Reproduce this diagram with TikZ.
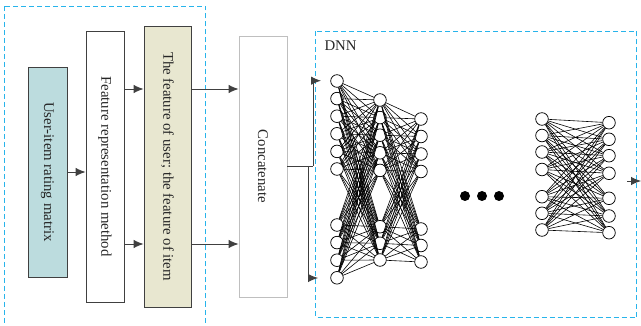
\documentclass[tikz,border=0pt]{standalone}
\usepackage{fontspec}
\setmainfont{Liberation Serif}
\usetikzlibrary{arrows.meta}

\definecolor{dashblue}{RGB}{40,180,235}
\definecolor{tealfill}{RGB}{188,220,222}
\definecolor{beigefill}{RGB}{232,231,208}

\tikzset{
    blockbox/.style={draw=black!75, line width=0.9pt, inner sep=0pt, text=black!85,
        font=\fontsize{14.8}{17}\selectfont},
    dashframe/.style={draw=dashblue, line width=1pt, dash pattern=on 5pt off 3pt},
    arr/.style={draw=black!75, line width=0.9pt, -{Latex[length=10pt,width=8.5pt]}},
    neuron/.style={circle, draw, line width=0.75pt, minimum size=12.6pt, inner sep=0pt},
    edge/.style={line width=0.6pt},
    bigdot/.style={circle, fill, minimum size=10pt, inner sep=0pt}
}

\begin{document}
\begin{tikzpicture}[x=1pt, y=-1pt]
    \useasboundingbox (0,0) rectangle (641,326);
    \clip (0,0) rectangle (641,326);

    \draw[dashframe] (4.5,6.5) rectangle (205.5,340);
    \draw[dashframe] (315.5,31.5) rectangle (636.5,317.5);

    \node[blockbox, fill=tealfill, minimum width=39pt, minimum height=210pt] (rating) at (47.5,172)
        {\rotatebox{-90}{User-item rating matrix}};
    \node[blockbox, fill=white, minimum width=38pt, minimum height=271pt] (featrep) at (105,166.5)
        {\rotatebox{-90}{Feature representation method}};
    \node[blockbox, fill=beigefill, minimum width=47pt, minimum height=281pt] (featui) at (167.5,166.5)
        {\rotatebox{-90}{The feature of user; the feature of item}};
    \node[blockbox, draw=black!25, fill=white, minimum width=48pt, minimum height=261pt] (concat) at (263,166.5)
        {\rotatebox{-90}{Concatenate}};

    \draw[arr] (rating.east |- 0,172) -- (featrep.west |- 0,172);
    \draw[arr] (featrep.east |- 0,89) -- (featui.west |- 0,89);
    \draw[arr] (featrep.east |- 0,244) -- (featui.west |- 0,244);
    \draw[arr] (featui.east |- 0,89) -- (concat.west |- 0,89);
    \draw[arr] (featui.east |- 0,244) -- (concat.west |- 0,244);

    \node[font=\fontsize{14.8}{17}\selectfont, text=black!85, anchor=west] (dnn) at (321,46) {DNN};

    \foreach \y [count=\k] in {81,98.6,116.2,133.8,151.4,169,225,242.6,260.2,277.8}
        \node[neuron] (a\k) at (337,\y) {};
    \foreach \y [count=\k] in {100,117.6,135.2,152.8,170.4,226.7,243.3,260}
        \node[neuron] (b\k) at (380,\y) {};
    \foreach \y [count=\k] in {119,136.5,154,171.5,229,245.5,262}
        \node[neuron] (c\k) at (421,\y) {};
    \foreach \y [count=\k] in {119,135.5,152,169.5,196.7,213.3,230}
        \node[neuron] (d\k) at (542,\y) {};
    \foreach \y [count=\k] in {122.7,139.3,155.7,173.3,198.3,216,232.7}
        \node[neuron] (e\k) at (609,\y) {};

    \foreach \i in {1,...,10}
        \foreach \j in {1,...,8}
            \draw[edge] (a\i) -- (b\j);
    \foreach \i in {1,...,8}
        \foreach \j in {1,...,7}
            \draw[edge] (b\i) -- (c\j);
    \foreach \i in {1,...,7}
        \foreach \j in {1,...,7}
            \draw[edge] (d\i) -- (e\j);

    \foreach \x [count=\k] in {465,482,499}
        \node[bigdot] (dot\k) at (\x,196) {};

    \coordinate (split) at (313,166);
    \coordinate (inup) at (321,80.7);
    \coordinate (indown) at (318,278);
    \draw[draw=black!75, line width=0.9pt] (concat.east |- split) -- (split);
    \draw[arr] (split) -- (313,80.7) -- (inup);
    \draw[arr] (308,166) -- (308,278) -- (indown);

    \coordinate (outstart) at (627,181);
    \coordinate (outend) at (641,181);
    \draw[arr] (outstart) -- (outend);
\end{tikzpicture}
\end{document}
